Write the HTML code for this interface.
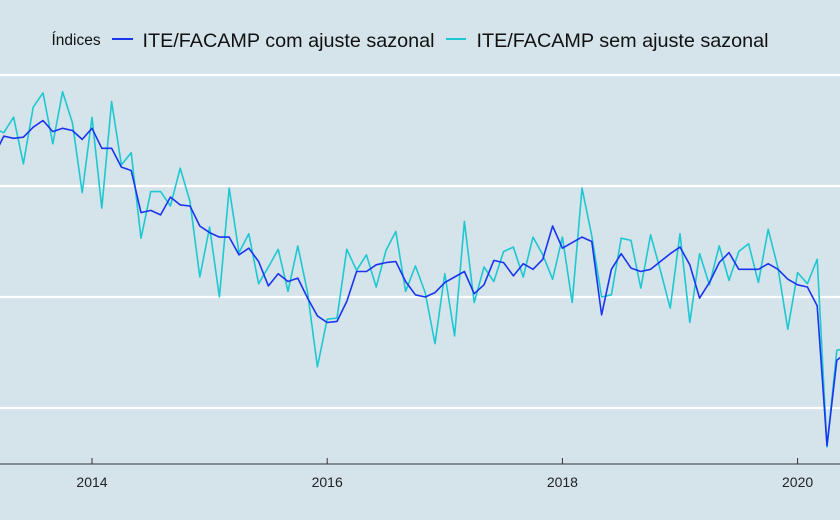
<!DOCTYPE html>
<html><head><meta charset="utf-8"><style>
html,body{margin:0;padding:0;background:#d5e3ea;}
svg{display:block;font-family:"Liberation Sans",sans-serif;}
</style></head><body>
<svg id="chart" width="840" height="520" viewBox="0 0 840 520" xmlns="http://www.w3.org/2000/svg">
<rect x="0" y="0" width="840" height="520" fill="#d5e3ea"/>
<g id="grid"></g>
<g id="series"></g>
<g id="xaxis"></g>
<g>
  <text x="51.5" y="45" font-size="15.5" fill="#111">Índices</text>
  <line x1="112" y1="39" x2="133" y2="39" stroke="#1a35f0" stroke-width="2"/>
  <text x="142.5" y="47" font-size="19.8" fill="#111">ITE/FACAMP com ajuste sazonal</text>
  <line x1="446" y1="39" x2="466" y2="39" stroke="#1ec8d2" stroke-width="2"/>
  <text x="476.5" y="47" font-size="19.8" fill="#111">ITE/FACAMP sem ajuste sazonal</text>
</g>
</svg>
<script>
// monthly series starting March 2013
const startYear = 2013;
const startMonth = 3;
const seasAdj = [112.7,114.5,114.3,114.4,115.3,115.9,114.9,115.2,115.0,114.2,115.2,113.4,113.4,111.7,111.4,107.6,107.8,107.4,109.0,108.3,108.2,106.4,105.8,105.4,105.4,103.8,104.4,103.2,101.0,102.1,101.4,101.7,99.9,98.3,97.7,97.8,99.6,102.3,102.3,102.9,103.1,103.2,101.4,100.2,100.0,100.4,101.3,101.8,102.3,100.3,101.1,103.3,103.1,101.9,103.0,102.5,103.4,106.4,104.4,104.9,105.4,105.0,98.4,102.5,103.9,102.6,102.3,102.5,103.2,103.9,104.5,102.9,99.9,101.3,103.1,104.0,102.5,102.5,102.5,103.0,102.5,101.6,101.1,100.9,99.2,86.6,94.3,95.0];
const notAdj = [115.2,114.8,116.2,112.0,117.1,118.4,113.8,118.5,115.7,109.4,116.2,108.0,117.6,111.9,113.0,105.3,109.5,109.5,108.2,111.6,108.6,101.8,106.3,100.0,109.8,104.0,105.7,101.2,102.7,104.3,100.5,104.6,100.4,93.7,98.0,98.1,104.3,102.4,103.8,100.9,104.2,105.9,100.5,102.8,100.4,95.8,102.1,96.5,106.8,99.5,102.7,101.4,104.1,104.5,101.8,105.4,103.8,101.6,105.4,99.5,109.8,105.5,100.0,100.2,105.3,105.1,100.8,105.6,102.4,99.0,105.7,97.7,103.9,101.1,104.6,101.5,104.1,104.8,101.3,106.1,102.6,97.1,102.2,101.2,103.4,86.5,95.2,95.4];
const yGrid = [90,100,110,120];
const xTicks = [2014,2016,2018,2020];

const NS = "http://www.w3.org/2000/svg";
function xScale(yearFrac){ return 92 + (yearFrac - 2014) * 117.6; }
function yScale(v){ return 297 - (v - 100) * 11.1; }
function dateOf(i){ return startYear + (startMonth - 1 + i) / 12; }

const grid = document.getElementById('grid');
yGrid.forEach(v=>{
  const l=document.createElementNS(NS,'line');
  
  
  l.setAttribute('x1',0);l.setAttribute('x2',840);
  l.setAttribute('y1',yScale(v));l.setAttribute('y2',yScale(v));
  l.setAttribute('stroke','#ffffff');l.setAttribute('stroke-width','2.2');
  grid.appendChild(l);
});

const series = document.getElementById('series');
function drawLine(arr, color, name){
  const p=document.createElementNS(NS,'polyline');
  
  
  p.setAttribute('points', arr.map((v,i)=>xScale(dateOf(i)).toFixed(1)+','+yScale(v).toFixed(1)).join(' '));
  p.setAttribute('fill','none');p.setAttribute('stroke',color);
  p.setAttribute('stroke-width','1.6');p.setAttribute('stroke-linejoin','round');
  series.appendChild(p);
}
drawLine(notAdj,'#1ec8d2','series-nsa-line');
drawLine(seasAdj,'#1a35f0','series-sa-line');

const xa = document.getElementById('xaxis');
const axl=document.createElementNS(NS,'line');


axl.setAttribute('x1',0);axl.setAttribute('x2',840);axl.setAttribute('y1',464);axl.setAttribute('y2',464);
axl.setAttribute('stroke','#333');axl.setAttribute('stroke-width','1');
xa.appendChild(axl);
xTicks.forEach(t=>{
  const x=xScale(t);
  const tk=document.createElementNS(NS,'line');
  
  
  tk.setAttribute('x1',x);tk.setAttribute('x2',x);tk.setAttribute('y1',458);tk.setAttribute('y2',464);
  tk.setAttribute('stroke','#333');
  xa.appendChild(tk);
  const tx=document.createElementNS(NS,'text');
  
  
  tx.setAttribute('x',x);tx.setAttribute('y',487);
  tx.setAttribute('text-anchor','middle');tx.setAttribute('font-size','14');tx.setAttribute('fill','#222');
  tx.textContent=t;
  xa.appendChild(tx);
});
</script>
</body></html>
